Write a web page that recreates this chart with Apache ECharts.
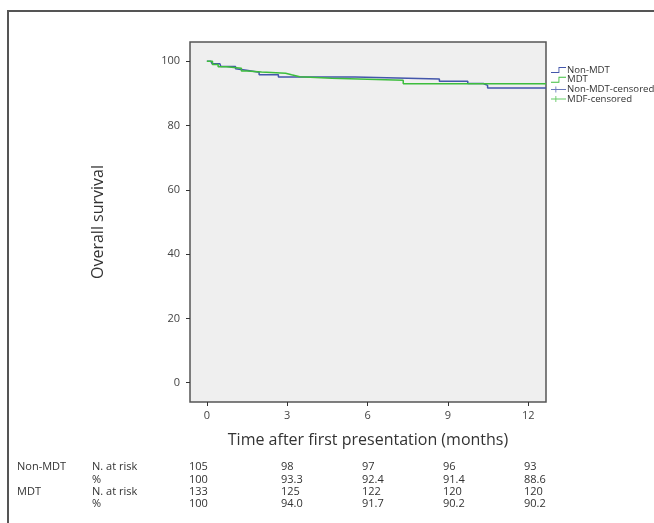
<!DOCTYPE html>
<html><head><meta charset="utf-8">
<script src="https://cdn.jsdelivr.net/npm/echarts@6/dist/echarts.min.js"></script>
<style>html,body{margin:0;padding:0;background:#fff}#c{width:654px;height:523px}</style>
</head><body><div id="c"></div>
<script>
// ---- data ----
const xTicks = [0, 3, 6, 9, 12];
const yTicks = [0, 20, 40, 60, 80, 100];
const nonMdtTime = [0, 0.15, 0.2, 0.49, 0.52, 1.07, 1.11, 1.48, 1.95, 2.67, 5.53, 8.68, 9.74, 10.32, 10.48, 12.66];
const nonMdtSurv = [100, 99.5, 99.2, 98.7, 98.4, 97.7, 97.2, 96.6, 95.8, 95.1, 94.5, 93.8, 93.1, 92.5, 91.7, 91.7];
const mdtTime = [0, 0.21, 0.42, 0.73, 1.29, 1.51, 2.04, 2.94, 3.16, 3.47, 4.66, 7.33, 12.66];
const mdtSurv = [100, 99.0, 98.3, 97.8, 97.0, 96.7, 96.3, 95.8, 95.2, 94.7, 94.1, 93.0, 93.0];
const nonMdtCensTime = [];
const nonMdtCensSurv = [];
const mdtCensTime = [];
const mdtCensSurv = [];
const seriesNames = ['Non-MDT', 'MDT', 'Non-MDT-censored', 'MDF-censored'];
const riskGroups = ['Non-MDT', 'MDT'];
const riskRowLabels = ['N. at risk', '%'];
const riskNonMdt = ['105', '98', '97', '96', '93'];
const pctNonMdt = ['100', '93.3', '92.4', '91.4', '88.6'];
const riskMdt = ['133', '125', '122', '120', '120'];
const pctMdt = ['100', '94.0', '91.7', '90.2', '90.2'];

// ---- build ----
const zip = (a, b) => a.map((v, i) => [v, b[i]]);
const BLUE = '#4356ab', GREEN = '#3dbd3d';
const FONT = 'Open Sans';
const stepIcon = 'path://M0,5 L8.5,5 L8.5,0 L17,0 L17,1 L9.5,1 L9.5,6 L0,6 Z';
const crossIcon = 'path://M0,2.5 L17,2.5 L17,3.5 L0,3.5 Z M5,0 L6,0 L6,6 L5,6 Z M17,0 L17,0.01 L16.99,0 Z M0,6 L0.01,6 L0,5.99 Z';

const tableRows = [
  [riskGroups[0], riskRowLabels[0], riskNonMdt],
  ['', riskRowLabels[1], pctNonMdt],
  [riskGroups[1], riskRowLabels[0], riskMdt],
  ['', riskRowLabels[1], pctMdt]
];
const rowY = [467, 479.5, 492, 504];
const colX = [189, 281, 362, 443, 524];
const graphics = [
  { type: 'polyline', shape: { points: [[8, 523], [8, 11], [654, 11]] }, style: { stroke: '#555', lineWidth: 2, fill: null } }
];
tableRows.forEach((r, i) => {
  const ts = { fontFamily: FONT, fontSize: 11, fill: '#333', verticalAlign: 'middle' };
  if (r[0]) graphics.push({ type: 'text', x: 17, y: rowY[i], style: Object.assign({ text: r[0] }, ts) });
  graphics.push({ type: 'text', x: 92, y: rowY[i], style: Object.assign({ text: r[1] }, ts) });
  r[2].forEach((v, j) => graphics.push({ type: 'text', x: colX[j], y: rowY[i], style: Object.assign({ text: v }, ts) }));
});

const chart = echarts.init(document.getElementById('c'));
chart.setOption({
  animation: false,
  backgroundColor: '#fff',
  textStyle: { fontFamily: FONT },
  grid: { left: 190, top: 42, width: 356, height: 360, show: true, backgroundColor: '#efefef', borderColor: '#555', borderWidth: 1.5 },
  xAxis: {
    type: 'value', min: -0.63, max: 12.66,
    name: 'Time after first presentation (months)', nameLocation: 'middle', nameGap: 30,
    nameTextStyle: { fontSize: 16, color: '#333', fontFamily: FONT },
    axisLine: { show: false, onZero: false },
    axisTick: { show: true, inside: false, length: 4, customValues: xTicks, lineStyle: { color: '#333' } },
    axisLabel: { customValues: xTicks, fontSize: 11, color: '#444', margin: 8, fontFamily: FONT },
    splitLine: { show: false }
  },
  yAxis: {
    type: 'value', min: -6, max: 106,
    name: 'Overall survival', nameLocation: 'middle', nameGap: 84,
    nameTextStyle: { fontSize: 16, color: '#333', fontFamily: FONT },
    axisLine: { show: false, onZero: false },
    axisTick: { show: true, inside: false, length: 4, customValues: yTicks, lineStyle: { color: '#333' } },
    axisLabel: { customValues: yTicks, fontSize: 11, color: '#444', margin: 10, fontFamily: FONT },
    splitLine: { show: false }
  },
  legend: {
    orient: 'vertical', left: 546, top: 60, itemWidth: 15, itemHeight: 6, itemGap: -0.3,
    symbolKeepAspect: false,
    textStyle: { fontSize: 9.6, color: '#333', fontFamily: FONT, padding: [0, 0, 0, -4] },
    itemStyle: { borderWidth: 0 },
    data: [
      { name: seriesNames[0], icon: stepIcon },
      { name: seriesNames[1], icon: stepIcon },
      { name: seriesNames[2], icon: crossIcon },
      { name: seriesNames[3], icon: crossIcon }
    ]
  },
  series: [
    { name: seriesNames[0], type: 'line', step: 'end', showSymbol: false, symbol: 'none', color: BLUE, lineStyle: { width: 1.5, color: BLUE }, data: zip(nonMdtTime, nonMdtSurv), z: 3 },
    { name: seriesNames[1], type: 'line', step: 'end', showSymbol: false, symbol: 'none', color: GREEN, lineStyle: { width: 1.5, color: GREEN }, data: zip(mdtTime, mdtSurv), z: 4 },
    { name: seriesNames[2], type: 'scatter', symbol: 'path://M0,4 L8,4 L8,5 L0,5 Z M4,0 L5,0 L5,9 L4,9 Z', symbolSize: 8, color: BLUE, data: zip(nonMdtCensTime, nonMdtCensSurv) },
    { name: seriesNames[3], type: 'scatter', symbol: 'path://M0,4 L8,4 L8,5 L0,5 Z M4,0 L5,0 L5,9 L4,9 Z', symbolSize: 8, color: GREEN, data: zip(mdtCensTime, mdtCensSurv) }
  ],
  graphic: graphics
});
</script></body></html>
